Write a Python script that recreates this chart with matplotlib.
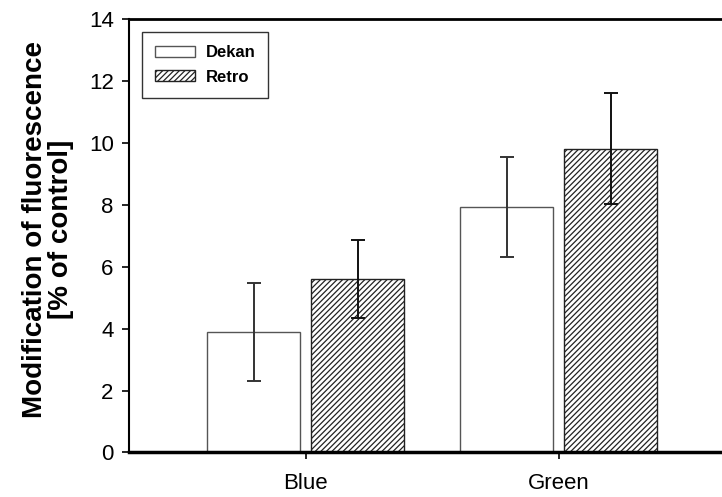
import numpy as np
import matplotlib.pyplot as plt

plt.rcParams['font.family'] = ['Liberation Sans', 'DejaVu Sans']
plt.rcParams['hatch.linewidth'] = 0.9

# fluorescence change per colour channel, mean and error
categories = ['Blue', 'Green']
dekan = [3.9, 7.94]
dekan_err = [1.58, 1.62]
retro = [5.62, 9.82]
retro_err = [1.26, 1.8]


def faz_grafico(titulo_y):
    fig = plt.figure(figsize=(7.22, 4.97), dpi=100)
    ax = fig.add_axes([0.1787, 0.0896, 0.8213, 0.8712])

    x = np.arange(1, len(categories) + 1)
    largura = 0.368
    desvio = 0.2055

    ax.bar(x - desvio, dekan, largura, color='white', edgecolor='#555555',
           linewidth=1, label='Dekan', zorder=2)
    ax.bar(x + desvio, retro, largura, color='white', edgecolor='#222222',
           linewidth=1, hatch='//////', label='Retro', zorder=2)

    ax.errorbar(x - desvio, dekan, yerr=dekan_err, fmt='none', ecolor='#333333',
                elinewidth=1.4, capsize=4.8, capthick=1.4, zorder=3)
    ax.errorbar(x + desvio, retro, yerr=retro_err, fmt='none', ecolor='#111111',
                elinewidth=1.4, capsize=4.8, capthick=1.4, zorder=3)

    ax.set_xlim(0.302, 2.646)
    ax.set_ylim(0, 14)
    ax.set_yticks(range(0, 15, 2))
    ax.set_xticks(x)
    ax.set_xticklabels(categories)
    ax.tick_params(axis='both', direction='out', length=5, width=1.2,
                   labelsize=16, colors='black')
    ax.tick_params(axis='x', pad=10)
    ax.tick_params(axis='y', pad=6)

    ax.spines['right'].set_visible(False)
    ax.spines['left'].set_linewidth(1.5)
    ax.spines['top'].set_linewidth(2)
    ax.spines['bottom'].set_linewidth(2.5)

    ax.set_ylabel(titulo_y, fontsize=20, fontweight='bold', linespacing=1.0)
    ax.yaxis.set_label_coords(-0.093, 0.516)

    leg = ax.legend(loc='upper left', bbox_to_anchor=(0.022, 0.971),
                    prop={'weight': 'bold', 'size': 12}, fancybox=False,
                    edgecolor='black', handlelength=2.4, handleheight=0.65,
                    borderpad=0.8, labelspacing=0.55, handletextpad=0.6,
                    borderaxespad=0)
    leg.get_frame().set_linewidth(1)

    fig.savefig('out.png', dpi=100)


def main():
    faz_grafico('Modification of fluorescence\n[% of control]')


if __name__ == "__main__":
    main()
